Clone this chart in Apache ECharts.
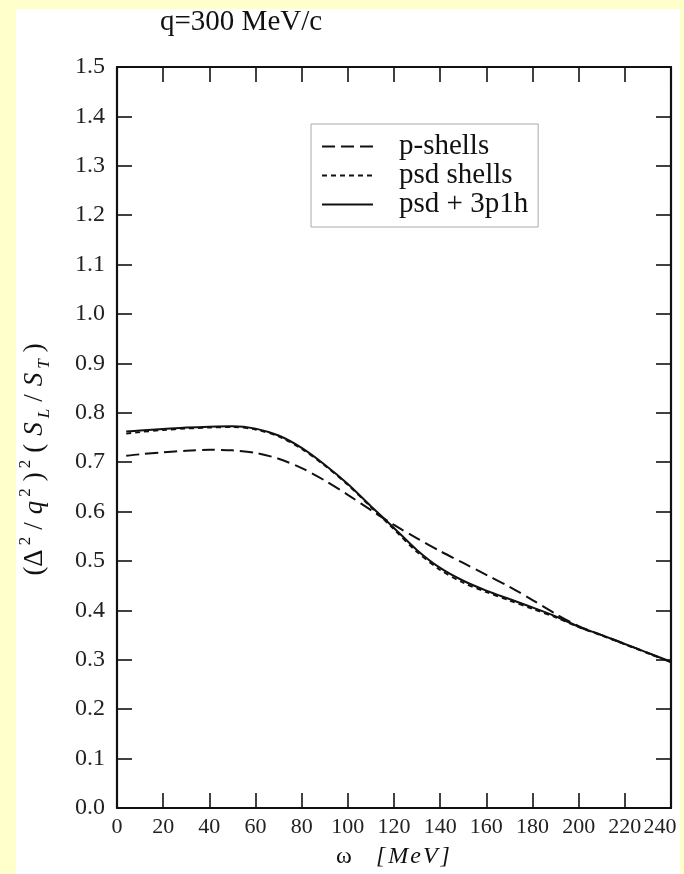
<!DOCTYPE html>
<html>
<head>
<meta charset="utf-8">
<script src="https://cdn.jsdelivr.net/npm/echarts@6/dist/echarts.min.js"></script>
<style>
  html, body { margin: 0; padding: 0; background: #FFFFCC; }
  #chart { width: 684px; height: 874px; }
</style>
</head>
<body>
<div id="chart"></div>
<script>
// Energy transfer ω in MeV
const omega = [4, 10, 20, 30, 40, 50, 60, 70, 80, 90, 100, 110, 120, 130, 140, 150, 160, 170, 180, 190, 200, 210, 220, 230, 240];
// (Δ²/q²)²(S_L/S_T) for each model space
const pShells  = [0.713, 0.716, 0.720, 0.723, 0.725, 0.724, 0.719, 0.707, 0.688, 0.663, 0.634, 0.603, 0.573, 0.546, 0.520, 0.496, 0.472, 0.448, 0.421, 0.393, 0.368, 0.350, 0.332, 0.314, 0.295];
const psdShells = [0.758, 0.761, 0.765, 0.768, 0.770, 0.771, 0.766, 0.752, 0.727, 0.693, 0.654, 0.609, 0.564, 0.518, 0.482, 0.456, 0.437, 0.420, 0.403, 0.386, 0.366, 0.349, 0.331, 0.313, 0.295];
const psd3p1h  = [0.762, 0.764, 0.767, 0.770, 0.772, 0.773, 0.768, 0.754, 0.729, 0.695, 0.656, 0.611, 0.567, 0.522, 0.486, 0.460, 0.440, 0.423, 0.406, 0.388, 0.367, 0.350, 0.332, 0.314, 0.296];
const seriesNames = ['p-shells', 'psd shells', 'psd + 3p1h'];
const xTicks = { min: 0, max: 240, step: 20 };
const yTicks = { min: 0, max: 1.5, step: 0.1 };

const serif = 'Liberation Serif';
const chart = echarts.init(document.getElementById('chart'), null, { renderer: 'canvas' });

const pairs = arr => omega.map((w, i) => [w, arr[i]]);

const tickStyle = { inside: true, length: 15, lineStyle: { color: '#111', width: 1.6 } };
const axisLine = { show: true, onZero: false, lineStyle: { color: '#111', width: 2.2 } };

// rich-text pieces for the rotated y-axis title
const base = { fontFamily: serif, fontSize: 27, lineHeight: 36, verticalAlign: 'middle', padding: [0, 4, 0, 4] };
const yRich = {
  n: base,
  i: Object.assign({}, base, { fontStyle: 'italic' }),
  end: Object.assign({}, base, { padding: [0, 48, 0, 4] }),
  sup: { fontFamily: serif, fontSize: 17, lineHeight: 36, verticalAlign: 'top', padding: [0, 3, 0, 0] },
  sub: { fontFamily: serif, fontSize: 17, fontStyle: 'italic', lineHeight: 36, verticalAlign: 'bottom', padding: [0, 3, 0, 0] }
};

chart.setOption({
  backgroundColor: '#FFFFCC',
  animation: false,
  graphic: [
    { type: 'rect', z: -10, silent: true, shape: { x: 16, y: 9, width: 664, height: 865 }, style: { fill: '#ffffff' } },
    { type: 'text', left: 160, top: 8, style: { text: 'q=300 MeV/c', font: '29px "Liberation Serif"', fill: '#111' } }
  ],
  grid: { left: 117, right: 13, top: 67, bottom: 66 },
  legend: {
    orient: 'vertical',
    left: 311, top: 124,
    itemWidth: 51, itemHeight: 14, itemGap: 0,
    backgroundColor: '#ffffff',
    borderColor: '#aaa', borderWidth: 1,
    padding: [8, 10, 8, 10],
    itemStyle: { opacity: 0 },
    textStyle: { fontFamily: serif, fontSize: 29, lineHeight: 26, color: '#111', padding: [0, 0, 0, 21] },
    data: seriesNames
  },
  xAxis: [{
    type: 'value', min: xTicks.min, max: xTicks.max, interval: xTicks.step,
    axisLine, axisTick: tickStyle, splitLine: { show: false },
    axisLabel: {
      fontFamily: serif, fontSize: 22, color: '#222', margin: 8,
      formatter: v => v === xTicks.max ? '{last|' + v + '}' : String(v),
      rich: { last: { fontFamily: serif, fontSize: 22, color: '#222', padding: [0, 22, 0, 0] } }
    },
    name: '{n|ω}{sp| }{b|[}{m|M}{m|e}{m|V}{b|]}', nameLocation: 'middle', nameGap: 37,
    nameTextStyle: { fontFamily: serif, fontSize: 24, color: '#111',
      rich: {
        n: { fontFamily: serif, fontSize: 24 },
        sp: { fontFamily: serif, fontSize: 24, padding: [0, 8, 0, 8] },
        b: { fontFamily: serif, fontSize: 24, fontStyle: 'italic', padding: [0, 2, 0, 2] },
        m: { fontFamily: serif, fontSize: 24, fontStyle: 'italic', padding: [0, 1, 0, 1] }
      } }
  }, {
    type: 'value', position: 'top', min: xTicks.min, max: xTicks.max, interval: xTicks.step,
    axisLine, axisTick: tickStyle, axisLabel: { show: false }, splitLine: { show: false }
  }],
  yAxis: [{
    type: 'value', min: yTicks.min, max: yTicks.max, interval: yTicks.step,
    axisLine, axisTick: tickStyle, splitLine: { show: false },
    axisLabel: { fontFamily: serif, fontSize: 24, color: '#222', margin: 12, formatter: v => v.toFixed(1) },
    name: '{n|(Δ}{sup|2}{n|/}{i|q}{sup|2}{n|)}{sup|2}{n|(}{i|S}{sub|L}{n|/}{i|S}{sub|T}{end|)}',
    nameLocation: 'middle', nameRotate: 90, nameGap: 64,
    nameTextStyle: { fontFamily: serif, fontSize: 27, color: '#111', rich: yRich }
  }, {
    type: 'value', position: 'right', min: yTicks.min, max: yTicks.max, interval: yTicks.step,
    axisLine, axisTick: tickStyle, axisLabel: { show: false }, splitLine: { show: false }
  }],
  series: [
    { name: seriesNames[0], type: 'line', data: pairs(pShells), smooth: 0.3, symbol: 'none',
      lineStyle: { color: '#111', width: 2, type: [13, 6] }, itemStyle: { color: '#111' } },
    { name: seriesNames[1], type: 'line', data: pairs(psdShells), smooth: 0.3, symbol: 'none',
      lineStyle: { color: '#111', width: 1.8, type: [5, 4] }, itemStyle: { color: '#111' } },
    { name: seriesNames[2], type: 'line', data: pairs(psd3p1h), smooth: 0.3, symbol: 'none',
      lineStyle: { color: '#111', width: 2 }, itemStyle: { color: '#111' } }
  ]
});
</script>
</body>
</html>
